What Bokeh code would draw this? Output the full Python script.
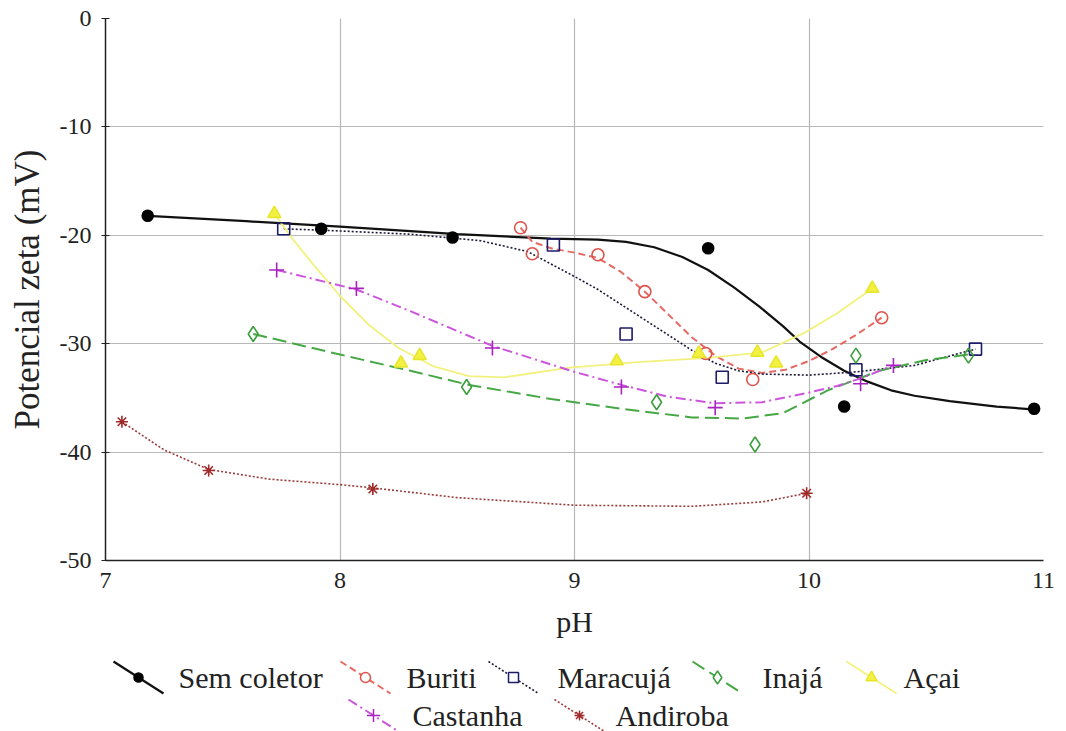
from bokeh.plotting import figure
from bokeh.layouts import column
from bokeh.models import Range1d, FixedTicker, CustomJSTickFormatter
from bokeh.core.properties import value
from bokeh.embed import file_html
from bokeh.resources import INLINE

# ---------------- data ----------------
x_ticks = [7, 8, 9, 10, 11]
y_ticks = [0, -10, -20, -30, -40, -50]

names = ["Sem coletor", "Buriti", "Maracujá", "Inajá", "Açai", "Castanha", "Andiroba"]

# measured points
sem_x = [7.18, 7.92, 8.48, 9.57, 10.15, 10.96]
sem_y = [-18.2, -19.4, -20.2, -21.2, -35.8, -36.0]
buriti_x = [8.77, 8.82, 9.10, 9.30, 9.56, 9.76, 10.31]
buriti_y = [-19.3, -21.7, -21.8, -25.2, -30.9, -33.3, -27.6]
maracuja_x = [7.76, 8.91, 9.22, 9.63, 10.20, 10.71]
maracuja_y = [-19.4, -20.9, -29.1, -33.1, -32.4, -30.5]
inaja_x = [7.63, 8.54, 9.35, 9.77, 10.20, 10.68]
inaja_y = [-29.1, -34.0, -35.4, -39.3, -31.1, -31.1]
acai_x = [7.72, 8.26, 8.34, 9.18, 9.53, 9.78, 9.86, 10.27]
acai_y = [-18.0, -31.8, -31.1, -31.6, -30.9, -30.8, -31.8, -24.9]
castanha_x = [7.73, 8.07, 8.65, 9.20, 9.60, 10.22, 10.36]
castanha_y = [-23.2, -24.9, -30.4, -34.0, -35.9, -33.7, -32.0]
andiroba_x = [7.07, 7.44, 8.14, 9.99]
andiroba_y = [-37.2, -41.7, -43.4, -43.8]

# fitted curves
sem_fx = [7.18, 7.6, 8.0, 8.5, 8.9, 9.1, 9.22, 9.34, 9.46, 9.57, 9.68, 9.79, 9.89, 9.96,
          10.05, 10.15, 10.25, 10.35, 10.45, 10.6, 10.8, 10.98]
sem_fy = [-18.2, -18.7, -19.2, -19.9, -20.3, -20.4, -20.6, -21.1, -22.0, -23.2, -24.8,
          -26.6, -28.4, -29.8, -31.2, -32.5, -33.5, -34.3, -34.8, -35.3, -35.8, -36.1]
buriti_fx = [8.77, 8.82, 8.9, 9.0, 9.1, 9.2, 9.3, 9.4, 9.5, 9.6, 9.7, 9.8, 9.9, 10.0,
             10.1, 10.2, 10.31]
buriti_fy = [-19.3, -20.6, -21.2, -21.6, -22.1, -23.4, -25.2, -27.3, -29.4, -31.1,
             -32.3, -32.7, -32.4, -31.6, -30.5, -29.2, -27.6]
maracuja_fx = [7.76, 8.0, 8.3, 8.6, 8.8, 9.0, 9.1, 9.2, 9.3, 9.4, 9.5, 9.6, 9.7, 9.8,
               10.0, 10.2, 10.45, 10.71]
maracuja_fy = [-19.4, -19.6, -19.9, -20.5, -21.5, -23.8, -25.0, -26.4, -27.8, -29.2,
               -30.6, -31.8, -32.5, -32.8, -32.9, -32.6, -32.0, -30.5]
inaja_fx = [7.63, 8.0, 8.3, 8.55, 8.9, 9.2, 9.5, 9.72, 9.89, 10.08, 10.3, 10.5, 10.68]
inaja_fy = [-29.1, -31.0, -32.5, -33.8, -35.1, -36.0, -36.8, -36.9, -36.4, -34.3,
            -32.5, -31.5, -31.0]
acai_fx = [7.72, 7.8, 7.89, 8.0, 8.12, 8.25, 8.4, 8.55, 8.7, 8.98, 9.27, 9.57, 9.8,
           9.98, 10.12, 10.27]
acai_fy = [-18.0, -20.4, -22.8, -25.6, -28.2, -30.4, -32.1, -33.0, -33.1, -32.2, -31.7,
           -31.3, -30.8, -29.0, -27.2, -24.9]
castanha_fx = [7.73, 8.07, 8.3, 8.65, 9.0, 9.2, 9.4, 9.6, 9.8, 10.0, 10.12, 10.22, 10.36]
castanha_fy = [-23.2, -25.0, -27.0, -30.2, -32.6, -33.8, -34.9, -35.5, -35.4, -34.5,
               -33.9, -33.2, -32.0]
andiroba_fx = [7.07, 7.25, 7.44, 7.7, 8.0, 8.14, 8.5, 9.0, 9.5, 9.8, 9.99]
andiroba_fy = [-37.2, -39.8, -41.6, -42.5, -43.0, -43.3, -44.2, -44.9, -45.0, -44.6, -43.8]

# ---------------- styles ----------------
styles = [
    dict(color="#000000", lcolor="#111111", dash="solid", lw=2.2, marker="circle", fill="#000000", size=11),
    dict(color="#e0524c", lcolor="#e56a64", dash="7 4", lw=2.0, marker="circle", fill=None, size=12),
    dict(color="#1c1c6a", lcolor="#1c1c3a", dash="2 2", lw=1.6, marker="square", fill=None, size=12),
    dict(color="#3c9e3c", lcolor="#45a845", dash="14 6", lw=2.0, marker="diamond", fill=None, size=15),
    dict(color="#e8e62c", lcolor="#f3f17e", dash="solid", lw=1.8, marker="triangle", fill="#f2f040", size=13),
    dict(color="#a822c0", lcolor="#cc55dc", dash="10 4 2 4", lw=2.0, marker="cross", fill=None, size=15),
    dict(color="#a02a2a", lcolor="#9a3a3a", dash="2 2", lw=1.6, marker="asterisk", fill=None, size=12),
]
pts = [(sem_x, sem_y), (buriti_x, buriti_y), (maracuja_x, maracuja_y), (inaja_x, inaja_y),
       (acai_x, acai_y), (castanha_x, castanha_y), (andiroba_x, andiroba_y)]
fits = [(sem_fx, sem_fy), (buriti_fx, buriti_fy), (maracuja_fx, maracuja_fy),
        (inaja_fx, inaja_fy), (acai_fx, acai_fy), (castanha_fx, castanha_fy),
        (andiroba_fx, andiroba_fy)]

FONT = "Times"
LEFT, RIGHT = 105, 23

p = figure(width=1066, height=650, x_range=Range1d(7, 11), y_range=Range1d(-50, 0),
           output_backend="svg", toolbar_location=None,
           min_border_left=LEFT, min_border_right=RIGHT, min_border_top=18, min_border_bottom=90)
p.outline_line_color = None

p.xaxis.ticker = FixedTicker(ticks=x_ticks)
p.yaxis.ticker = FixedTicker(ticks=y_ticks)
p.xgrid.ticker = FixedTicker(ticks=[8, 9, 10])
p.ygrid.ticker = FixedTicker(ticks=[-10, -20, -30, -40])
p.grid.grid_line_color = "#b8b8b8"
p.grid.grid_line_width = 1.2

fmt = CustomJSTickFormatter(code="return tick.toFixed(0);")
for ax in (p.xaxis, p.yaxis):
    ax.formatter = fmt
    ax.axis_line_color = "#222222"
    ax.axis_line_width = 1.5
    ax.major_tick_line_color = "#222222"
    ax.minor_tick_line_color = None
    ax.major_label_text_font = FONT
    ax.major_label_text_font_size = "24px"
    ax.major_label_text_color = "#222222"
    ax.axis_label_text_font = FONT
    ax.axis_label_text_font_style = "normal"
    ax.axis_label_text_color = "#222222"
p.yaxis.major_tick_in = 4
p.yaxis.major_tick_out = 4
p.xaxis.major_tick_in = 0
p.xaxis.major_tick_out = 0
p.xaxis.major_label_standoff = 12
p.yaxis.major_label_standoff = 10
p.xaxis.axis_label = "pH"
p.yaxis.axis_label = "Potencial zeta (mV)"
p.xaxis.axis_label_text_font_size = "30px"
p.yaxis.axis_label_text_font_size = "35px"
p.xaxis.axis_label_standoff = 14
p.yaxis.axis_label_standoff = 10

for (fx, fy), st in zip(fits, styles):
    p.line(fx, fy, line_color=st["lcolor"], line_width=st["lw"], line_dash=st["dash"])

for (px_, py_), st in zip(pts, styles):
    p.scatter(px_, py_, marker=st["marker"], size=st["size"], line_color=st["color"],
              fill_color=st["fill"] if st["fill"] else None, line_width=1.6)

# ---------------- legend (drawn in its own strip, page-pixel coordinates) ----------------
leg = figure(width=1066, height=81, x_range=Range1d(LEFT, 1066 - RIGHT), y_range=Range1d(731, 650),
             output_backend="svg", toolbar_location=None,
             min_border_left=LEFT, min_border_right=RIGHT, min_border_top=0, min_border_bottom=0)
leg.axis.visible = False
leg.grid.visible = False
leg.outline_line_color = None

leg_glyph_x = [113, 340, 488, 692, 846, 348, 554]
leg_text_x = [178, 406, 557, 762, 903, 412, 615]
leg_row_y = [677, 677, 677, 677, 677, 715, 715]
glyph_w, glyph_h = 50, 32

for i, st in enumerate(styles):
    x0 = leg_glyph_x[i]
    yc = leg_row_y[i]
    leg.line([x0, x0 + glyph_w], [yc - glyph_h / 2, yc + glyph_h / 2], line_color=st["lcolor"],
             line_width=st["lw"], line_dash=st["dash"])
    leg.scatter([x0 + glyph_w / 2], [yc], marker=st["marker"], size=st["size"] - 2,
                line_color=st["color"], fill_color=st["fill"] if st["fill"] else "white",
                line_width=1.5)
    leg.text([leg_text_x[i]], [yc], text=[names[i]], text_font=value(FONT),
             text_font_size="30px", text_color="#222222", text_baseline="middle",
             text_align="left")

layout = column(p, leg, spacing=0)
open("out.html", "w").write(file_html(layout, INLINE))
